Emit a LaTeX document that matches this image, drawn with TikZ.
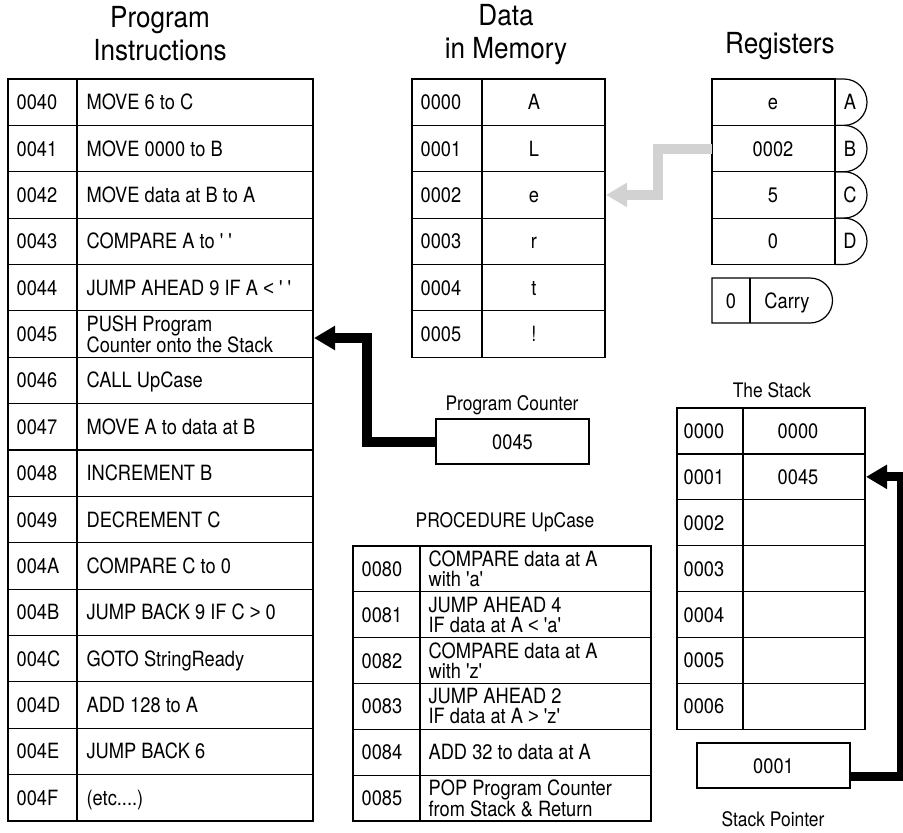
\documentclass[tikz,border=0pt]{standalone}
\usepackage{fontspec}
\newfontfamily\hv{TeX Gyre Heros}[FakeStretch=0.87,Ligatures=TeXOff]
\newfontfamily\hvt{TeX Gyre Heros}[FakeStretch=0.9,Ligatures=TeXOff]
\newfontfamily\lsans{Liberation Sans}[FakeStretch=0.87]
\usetikzlibrary{arrows.meta}
\newcommand\etcdots{(etc....)}
\newcommand\lessch{{\lsans <}}
\newcommand\greatch{{\lsans >}}
\begin{document}
\begin{tikzpicture}[x=1pt,y=-1pt,line width=1.2pt,
  font=\hv\fontsize{21}{20}\selectfont,
  title/.style={font=\hvt\fontsize{29}{33}\selectfont,align=center,inner sep=0},
  lbl/.style={font=\hv\fontsize{20}{20}\selectfont,inner sep=0,anchor=base},
  addr/.style={anchor=base west,inner sep=0},
  txt/.style={anchor=base west,inner sep=0},
  two/.style={anchor=west,inner sep=0,align=left},
  val/.style={anchor=base,inner sep=0},
  bigarrow/.style={line width=10pt,line join=miter,-{Triangle[length=21pt,width=23pt]}},
  box/.style={draw,line width=1.2pt,inner sep=0}]
\useasboundingbox (0,0) rectangle (903,833);

% ---------- titles
\node[title] (tprog) at (160,34) {Program\\Instructions};
\node[title] (tdata) at (506,35) {Data\\in Memory};
\node[title,anchor=base] (treg) at (780,53) {Registers};

% ---------- Program instructions table
\draw (8,79) rectangle (313,821);
\draw (77,79) -- (77,821);
\foreach \k in {1,...,15} \draw (8,{79+46.375*\k}) -- (313,{79+46.375*\k});
\foreach \a/\t [count=\k from 0] in {0040/MOVE 6 to C,0041/MOVE 0000 to B,0042/MOVE data at B to A,0043/COMPARE A to ' ',0044/JUMP AHEAD 9 IF A \lessch{} ' ',0045/,0046/CALL UpCase,0047/MOVE A to data at B,0048/INCREMENT B,0049/DECREMENT C,004A/COMPARE C to 0,004B/JUMP BACK 9 IF C \greatch{} 0,004C/GOTO StringReady,004D/ADD 128 to A,004E/JUMP BACK 6,004F/\etcdots}{
  \node[addr] (pa\k) at (16,{79+46.375*(\k+0.5)+7.5}) {\a};
  \node[txt] (pi\k) at (86,{79+46.375*(\k+0.5)+7.5}) {\t};
}
\node[two] (pi5b) at (86,{79+46.375*5.5}) {PUSH Program\\Counter onto the Stack};
\coordinate (pcin) at (313,338);

% ---------- Data in memory table
\draw (412,79) rectangle (605,{79+46.375*6});
\draw (482,79) -- (482,{79+46.375*6});
\foreach \k in {1,...,5} \draw (412,{79+46.375*\k}) -- (605,{79+46.375*\k});
\foreach \a/\t [count=\k from 0] in {0000/A,0001/L,0002/e,0003/r,0004/t,0005/!}{
  \node[addr] (da\k) at (420,{79+46.375*(\k+0.5)+7.5}) {\a};
  \node[val] (dv\k) at (534,{79+46.375*(\k+0.5)+7.5}) {\t};
}
\coordinate (memin) at (605,{79+46.375*2.5});

% ---------- Registers
\draw (712,79) rectangle (835,{79+46.375*4});
\foreach \k in {1,...,3} \draw (712,{79+46.375*\k}) -- (835,{79+46.375*\k});
\foreach \v/\r [count=\k from 0] in {e/A,0002/B,5/C,0/D}{
  \pgfmathsetmacro\rtop{79+46.375*\k}
  \pgfmathsetmacro\rmid{\rtop+23.1875}
  \pgfmathsetmacro\rbot{\rtop+46.375}
  \draw (835,\rtop) -- (844,\rtop) .. controls (856.8,\rtop) and (867,\rmid-12.8) .. (867,\rmid)
        .. controls (867,\rmid+12.8) and (856.8,\rbot) .. (844,\rbot) -- (835,\rbot);
  \node[val] (rv\k) at (773,\rmid+7.5) {\v};
  \node[val] (rn\k) at (850,\rmid+7.5) {\r};
}
\coordinate (regB) at (712,{79+46.375*1.5});

% ---------- Carry
\draw (810,278) -- (712,278) -- (712,323) -- (810,323)
      .. controls (822.4,323) and (832.5,312.9) .. (832.5,300.5)
      .. controls (832.5,288.1) and (822.4,278) .. (810,278);
\draw (750,278) -- (750,323);
\node[val] (cv) at (731,308) {0};
\node[val] (cn) at (787,308) {Carry};

% gray arrow register B -> memory 0002
\draw[bigarrow,draw=gray!35,-{Triangle[length=21pt,width=23pt,fill=gray!35]}]
  (regB) -- (658,{79+46.375*1.5}) -- (658,{79+46.375*2.5}) -- ([xshift=1pt]memin);

% ---------- Program counter
\node[lbl] (pclbl) at (512,410) {Program Counter};
\node[box,minimum width=153pt,minimum height=45pt] (pc) at (512.5,441.5) {};
\node[val] (pcv) at (512.5,449) {0045};
\draw[bigarrow] (pc.west) -- (367,441.5) -- (367,338) -- ([xshift=1pt]pcin);

% ---------- Procedure UpCase
\node[lbl] (plbl) at (505,527) {PROCEDURE UpCase};
\draw (353,546) rectangle (651,821);
\draw (420,546) -- (420,821);
\foreach \k in {1,...,5} \draw (353,{546+45.83*\k}) -- (651,{546+45.83*\k});
\foreach \a [count=\k from 0] in {0080,0081,0082,0083,0084,0085}{
  \node[addr] (ua\k) at (361,{546+45.83*(\k+0.5)+7.5}) {\a};
}
\node[two] (ui0) at (428,{546+45.83*0.5}) {COMPARE data at A\\with 'a'};
\node[two] (ui1) at (428,{546+45.83*1.5}) {JUMP AHEAD 4\\IF data at A \lessch{} 'a'};
\node[two] (ui2) at (428,{546+45.83*2.5}) {COMPARE data at A\\with 'z'};
\node[two] (ui3) at (428,{546+45.83*3.5}) {JUMP AHEAD 2\\IF data at A \greatch{} 'z'};
\node[txt] (ui4) at (428,{546+45.83*4.5+7.5}) {ADD 32 to data at A};
\node[two] (ui5) at (428,{546+45.83*5.5}) {POP Program Counter\\from Stack \& Return};

% ---------- The Stack
\node[lbl] (slbl) at (772,397) {The Stack};
\draw (677,408) rectangle (865,{408+45.9*7});
\draw (743,408) -- (743,{408+45.9*7});
\foreach \k in {1,...,6} \draw (677,{408+45.9*\k}) -- (865,{408+45.9*\k});
\foreach \a/\t [count=\k from 0] in {0000/0000,0001/0045,0002/,0003/,0004/,0005/,0006/}{
  \node[addr] (sa\k) at (683,{408+45.9*(\k+0.5)+7.5}) {\a};
  \node[val] (sv\k) at (798,{408+45.9*(\k+0.5)+7.5}) {\t};
}
\coordinate (stin) at (865,{408+45.9*1.5});

% ---------- Stack pointer
\node[box,minimum width=153pt,minimum height=45pt] (sp) at (773.5,765.5) {};
\node[val] (spv) at (773.5,773) {0001};
\node[lbl] (splbl) at (773,826) {Stack Pointer};
\coordinate (spout) at (850,776);
\draw[bigarrow,line width=9pt] (spout) -- (901,776) -- (901,{408+45.9*1.5}) -- ([xshift=1pt]stin);
\end{tikzpicture}
\end{document}
